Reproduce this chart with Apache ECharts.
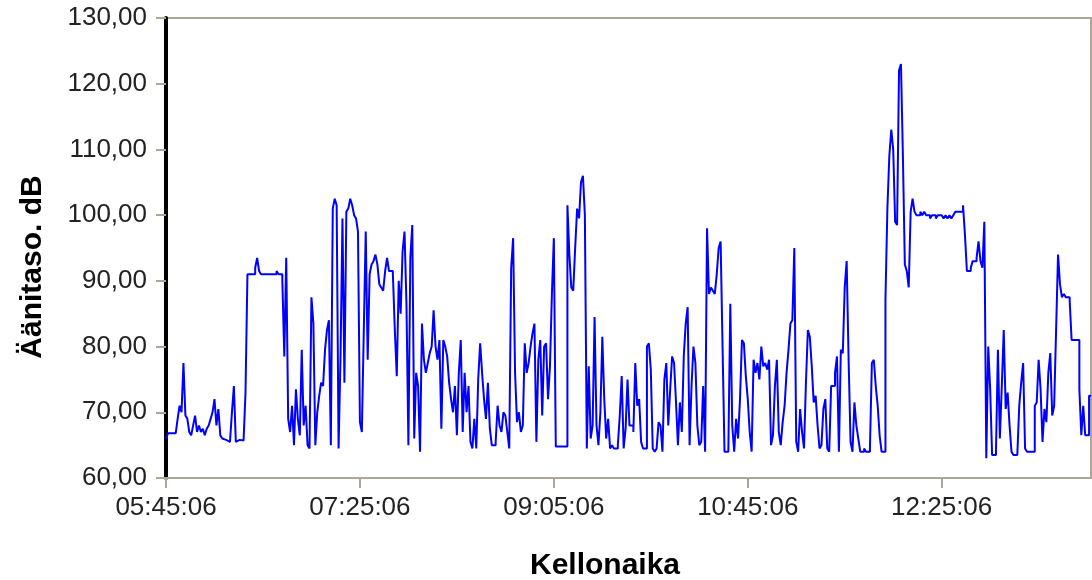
<!DOCTYPE html>
<html>
<head>
<meta charset="utf-8">
<title>Äänitaso</title>
<script src="https://cdn.jsdelivr.net/npm/echarts@6/dist/echarts.min.js"></script>
<style>
  html, body { margin: 0; padding: 0; background: #ffffff; }
  #chart { width: 1092px; height: 580px; }
</style>
</head>
<body>
<div id="chart"></div>
<script>
// Sound level, one reading per minute starting at 05:45:06
const startTime = '05:45:06';
const xTickLabels = ['05:45:06', '07:25:06', '09:05:06', '10:45:06', '12:25:06'];
const yTickValues = [60, 70, 80, 90, 100, 110, 120, 130];
const levelDb = [
  66, 66.8, 66.8, 66.8, 66.8, 66.8, 69, 71, 70, 77.5,
  69.5, 69, 67, 66.5, 68, 69.5, 67, 68, 67, 67.5,
  66.5, 67.5, 68, 69, 70, 72, 68, 70.5, 66.5, 66,
  65.8, 65.8, 65.5, 65.5, 70, 74, 65.5, 65.8, 66, 65.7,
  66, 73, 91, 91, 91, 91, 92, 93.5, 91.5, 91,
  91, 91, 91, 91, 91, 91, 91, 91.5, 91, 91,
  90, 78.5, 93.5, 69, 67, 71, 65, 73.5, 69, 66.5,
  79.5, 68, 71, 65, 64.5, 87.5, 83.5, 65, 70, 72.5,
  74.5, 74, 79.5, 82.5, 84, 65, 101, 102.5, 101.5, 64.5,
  78.5, 99.5, 74.5, 100.5, 101, 102.5, 101.5, 100, 99.5, 97.5,
  68.5, 67, 82.5, 97.5, 78, 91, 92.5, 93, 94, 92.5,
  89.5, 89, 88.5, 91.5, 93.5, 91.5, 91.5, 91, 82.5, 75.5,
  90, 85, 94.5, 97.5, 86.5, 65, 93.5, 98.5, 66, 76,
  74, 64, 83.5, 78, 76, 77.5, 79, 80, 85.5, 80,
  78, 81, 67.5, 81, 80, 78.5, 74.5, 72, 70, 74,
  66.5, 76, 81, 67, 76, 70, 74, 65.5, 64.5, 69,
  64.5, 75, 80.5, 76, 72, 69, 74.5, 67.5, 65, 65,
  65.5, 71, 68, 67, 70, 69.5, 67, 64.5, 92, 96.5,
  76, 68.5, 70, 67, 68, 80.5, 76, 77.5, 80, 82,
  83.5, 65.5, 78, 81, 69.5, 80, 80.5, 72, 77, 88,
  96.5, 64.8, 64.8, 64.8, 64.8, 64.8, 64.8, 101.5, 94, 89,
  88.5, 95, 101, 99.5, 105, 106, 100, 64.5, 77, 66,
  68, 84.5, 68, 65, 70, 81.5, 72, 66, 69, 64.5,
  65, 64.5, 64.5, 65, 69.5, 75.5, 64.5, 67.5, 75, 68,
  68, 67, 77.5, 71, 72, 65.5, 64.5, 64.5, 80, 80.5,
  76.5, 64.5, 64, 64.5, 68.5, 68, 64, 75, 77.5, 68,
  73.5, 78.5, 77.5, 71.5, 65, 71.5, 67, 78.5, 83.5, 86,
  65, 74, 80, 77.5, 68, 65, 65.5, 74, 64, 98,
  88, 89, 88.5, 88, 91, 95, 96, 80, 64, 64,
  64.5, 86.5, 68, 64, 69, 66, 72, 81, 80.5, 75.5,
  72, 67, 64, 78, 76, 77.5, 75, 80, 77, 77.5,
  76.5, 78, 65, 66.5, 74, 78, 67, 65, 68.5, 71,
  76, 79.5, 83.5, 84, 95, 65.5, 64, 70.5, 67, 64.5,
  74.5, 82.5, 81.5, 77, 71.5, 72.5, 68, 64.5, 65, 70.5,
  72, 64.5, 64, 74, 74, 76, 78.5, 64, 79.5, 79,
  89, 93, 78, 65.5, 64, 71.5, 68, 66, 64, 64,
  64.5, 64, 64, 64.5, 77.5, 78, 74, 71, 66.5, 64,
  64, 87, 101, 109, 113, 110, 99, 98.5, 122, 123,
  109, 92.5, 91.5, 89, 100.5, 102.5, 100.5, 100, 100, 100.5,
  100, 100.5, 100, 100, 99.5, 100, 100, 99.5, 100, 100,
  100, 99.5, 100, 99.5, 100, 99.5, 100, 100.5, 100.5, 100.5,
  100.5, 101.5, 97, 91.5, 91.5, 92, 93, 93, 93.5, 96,
  93, 92, 99, 63, 80, 73.5, 63.5, 63.5, 64, 79.5,
  66, 74, 82.5, 70.5, 73, 68, 64, 63.5, 63.5, 63.5,
  71, 74.5, 77.5, 64.5, 64, 64, 64, 64, 71, 71.5,
  78, 73.5, 65.5, 70.5, 68.5, 76, 79, 69.5, 71, 82.5,
  94, 89.5, 87.5, 88, 87.5, 87.5, 87, 81, 81, 81,
  81, 73.5, 66.5, 71, 66.5, 66.5, 72.5, 72.5
];
const xTitle = 'Kellonaika';
const yTitle = 'Äänitaso. dB';

const labelStep = 100; // minutes between time labels
const frameGray = '#aca899';
const fontFamily = '"Liberation Sans", Arial, sans-serif';

const chart = echarts.init(document.getElementById('chart'), null, { renderer: 'canvas' });

chart.setOption({
  animation: false,
  backgroundColor: '#ffffff',
  grid: {
    left: 166, right: 1, top: 18, bottom: 102,
    show: true, borderColor: frameGray, borderWidth: 2, backgroundColor: '#ffffff'
  },
  xAxis: {
    type: 'value',
    min: 0,
    max: levelDb.length - 1,
    interval: labelStep,
    axisLine: { show: true, onZero: false, lineStyle: { color: frameGray, width: 2 } },
    axisTick: { show: true, length: 10, lineStyle: { color: frameGray, width: 2 } },
    splitLine: { show: false },
    axisLabel: {
      showMaxLabel: false,
      margin: 17,
      color: '#222222',
      fontFamily: fontFamily,
      fontSize: 26,
      formatter: v => xTickLabels[Math.round(v / labelStep)] || ''
    }
  },
  yAxis: {
    type: 'value',
    min: yTickValues[0],
    max: yTickValues[yTickValues.length - 1],
    interval: 10,
    axisLine: { show: true, lineStyle: { color: '#000000', width: 4 } },
    axisTick: { show: true, length: 10, lineStyle: { color: frameGray, width: 2 } },
    splitLine: { show: false },
    axisLabel: {
      margin: 19,
      color: '#222222',
      fontFamily: fontFamily,
      fontSize: 26,
      formatter: v => v.toFixed(2).replace('.', ',')
    }
  },
  graphic: [
    {
      type: 'text',
      x: 605, y: 566,
      style: {
        text: xTitle,
        align: 'center', verticalAlign: 'middle',
        font: 'bold 30px ' + fontFamily, fill: '#000000'
      }
    },
    {
      type: 'text',
      x: 33, y: 267,
      rotation: Math.PI / 2,
      style: {
        text: yTitle,
        align: 'center', verticalAlign: 'middle',
        font: 'bold 30px ' + fontFamily, fill: '#000000'
      }
    }
  ],
  series: [{
    type: 'line',
    data: levelDb.map((v, i) => [i, v]),
    step: 'end',
    showSymbol: false,
    symbol: 'none',
    lineStyle: { color: '#0000ff', width: 2 },
    clip: true
  }]
});
</script>
</body>
</html>
